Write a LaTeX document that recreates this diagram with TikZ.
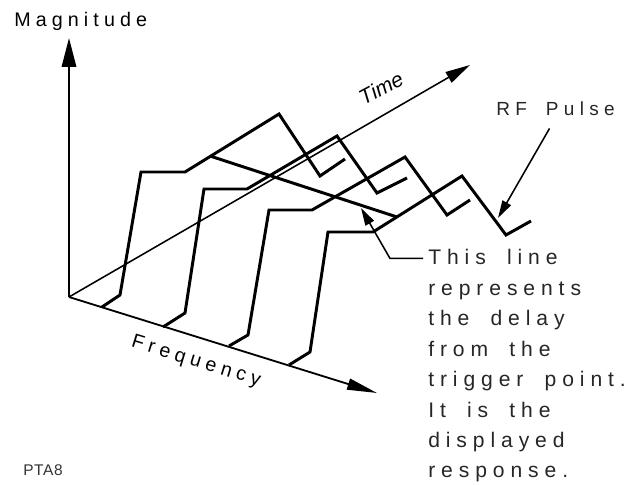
\documentclass[tikz,border=0pt]{standalone}
\usepackage{fontspec}
\setmainfont{Liberation Sans}
\newfontfamily\labelfont[LetterSpace=26, WordSpace=1.6]{Liberation Sans}
\newfontfamily\notefont[LetterSpace=28, WordSpace=1.8]{Liberation Sans}
\newfontfamily\tagfont[LetterSpace=4]{Liberation Sans}
\usetikzlibrary{arrows.meta}

\begin{document}
\begin{tikzpicture}[x=0.025cm, y=-0.025cm,
  axis/.style={line width=1.3pt},
  pulse/.style={line width=2.1pt, line join=miter},
  callout/.style={line width=1.1pt},
  heavy/.style={font=\labelfont\fontsize{14}{16}\selectfont, inner sep=0pt},
  light/.style={font=\notefont\fontsize{15}{17}\selectfont, text=black!85, inner sep=0pt, anchor=base west}]

\useasboundingbox (0,0) rectangle (639,485);

% --- axes ---
\coordinate (O) at (69,297);
\coordinate (mag) at (69,38);
\coordinate (time) at (470,65);
\coordinate (freq) at (377,393);

\draw[axis, -{Triangle[length=7.2mm, width=3.6mm]}] (O) -- (mag);
\draw[axis, line width=1.1pt, -{Triangle[length=6.2mm, width=3mm]}] (O) -- (time);
\draw[axis, -{Triangle[length=7.5mm, width=2.8mm]}] (O) -- (freq);

% --- axis labels ---
\node[heavy, anchor=base west] (maglabel) at (14,27) {Magnitude};
\node[inner sep=0pt, font=\itshape\fontsize{15}{17}\selectfont, rotate=28] (timelabel) at (381,88) {Time};
\node[heavy, rotate=-17] (freqlabel) at (196,362) {Frequency};

% --- pulses, one per frequency ---
\draw[pulse] (102,307) -- (120,295) -- (141,172) -- (185,172) -- (279,114) -- (320,176) -- (345,159);
\draw[pulse] (163,327) -- (185,313) -- (204,189) -- (247,189) -- (337,136) -- (377,193) -- (407,178);
\draw[pulse] (229,346) -- (248,335) -- (269,210) -- (312,210) -- (405,157) -- (447,215) -- (470,200);
\draw[pulse] (289,365) -- (310,352) -- (328,232) -- (373,232) -- (462,176) -- (506,235) -- (531,221);

% --- delay line across the pulses ---
\coordinate (d1) at (210,156);
\coordinate (d2) at (397,217);
\draw[pulse] (d1) -- (d2);

% --- RF Pulse callout ---
\node[light, font=\notefont\fontsize{13.5}{16}\selectfont] (rf) at (496,116) {RF Pulse};
\coordinate (rftip) at (498,218);
\draw[callout, -{Triangle[length=4.4mm, width=2.4mm]}] (rf.south) ++(-6,12) -- (rftip);

% --- delay line callout ---
\node[light] (l1) at (428,265) {This line};
\node[light] (l2) at (428,295.4) {represents};
\node[light] (l3) at (428,325.8) {the delay};
\node[light] (l4) at (428,356.2) {from the};
\node[light] (l5) at (428,386.6) {trigger point.};
\node[light] (l6) at (428,417) {It is the};
\node[light] (l7) at (428,447.4) {displayed};
\node[light] (l8) at (428,477.8) {response.};
\coordinate (dtip) at (361,208);
\draw[callout, -{Triangle[length=4.4mm, width=2.4mm]}] (l1.west) ++(-5,1) -- ++(-33,0) -- (dtip);

% --- figure tag ---
\node[font=\tagfont\fontsize{11}{13}\selectfont, text=black!80, inner sep=0pt, anchor=base west] (tag) at (23,475) {PTA8};

\end{tikzpicture}
\end{document}
